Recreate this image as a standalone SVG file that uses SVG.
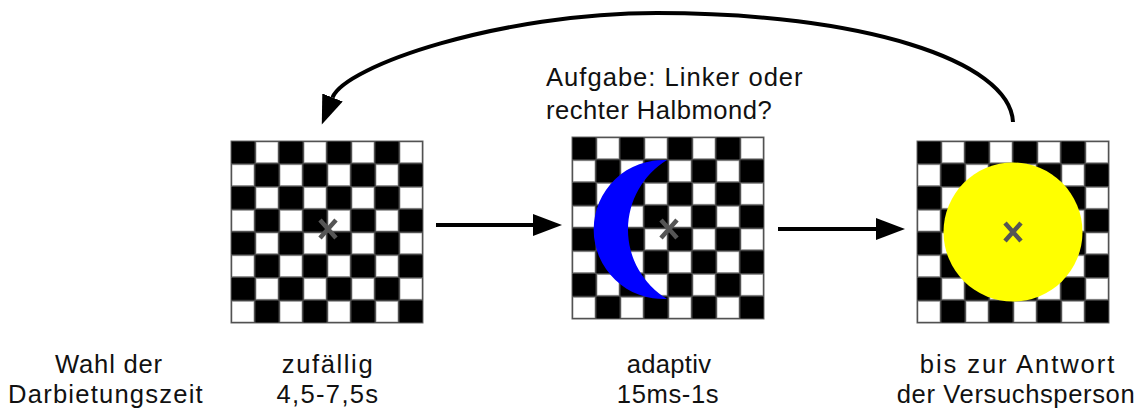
<svg xmlns="http://www.w3.org/2000/svg" xmlns:xlink="http://www.w3.org/1999/xlink" width="1138" height="410" viewBox="0 0 1138 410">
  <style>
    .lbl { font-family: "Liberation Sans", Arial, sans-serif; font-size: 25.6px; fill: #111; }
    .mid { text-anchor: middle; }
    .conn { fill: none; stroke: #000; stroke-width: 4; }
    .fix { stroke: #555; stroke-width: 4.5; stroke-linecap: butt; }
    .sq { fill: #fff; stroke: #9a9a9a; stroke-width: 0.8; }
    .grid { stroke: #555; stroke-width: 0.8; fill: none; }
  </style>
  <defs>
    <marker id="head" markerUnits="userSpaceOnUse" viewBox="0 0 30 22" markerWidth="30" markerHeight="22" refX="0" refY="11" orient="auto">
      <path d="M0,0 L29,11 L0,22 z" fill="#000"/>
    </marker>
    <!-- 8 x 8 checkerboard, 192 x 182 -->
    <g id="checker">
      <rect x="0" y="0" width="192" height="182" fill="#000"/>
      <path class="grid" d="M24 0V182M48 0V182M72 0V182M96 0V182M120 0V182M144 0V182M168 0V182
                            M0 22.75H192M0 45.5H192M0 68.25H192M0 91H192M0 113.75H192M0 136.5H192M0 159.25H192"/>
      <g class="sq">
        <rect x="25" y="1" width="22" height="20.75"/><rect x="73" y="1" width="22" height="20.75"/><rect x="121" y="1" width="22" height="20.75"/><rect x="169" y="1" width="22" height="20.75"/>
        <rect x="1" y="23.75" width="22" height="20.75"/><rect x="49" y="23.75" width="22" height="20.75"/><rect x="97" y="23.75" width="22" height="20.75"/><rect x="145" y="23.75" width="22" height="20.75"/>
        <rect x="25" y="46.5" width="22" height="20.75"/><rect x="73" y="46.5" width="22" height="20.75"/><rect x="121" y="46.5" width="22" height="20.75"/><rect x="169" y="46.5" width="22" height="20.75"/>
        <rect x="1" y="69.25" width="22" height="20.75"/><rect x="49" y="69.25" width="22" height="20.75"/><rect x="97" y="69.25" width="22" height="20.75"/><rect x="145" y="69.25" width="22" height="20.75"/>
        <rect x="25" y="92" width="22" height="20.75"/><rect x="73" y="92" width="22" height="20.75"/><rect x="121" y="92" width="22" height="20.75"/><rect x="169" y="92" width="22" height="20.75"/>
        <rect x="1" y="114.75" width="22" height="20.75"/><rect x="49" y="114.75" width="22" height="20.75"/><rect x="97" y="114.75" width="22" height="20.75"/><rect x="145" y="114.75" width="22" height="20.75"/>
        <rect x="25" y="137.5" width="22" height="20.75"/><rect x="73" y="137.5" width="22" height="20.75"/><rect x="121" y="137.5" width="22" height="20.75"/><rect x="169" y="137.5" width="22" height="20.75"/>
        <rect x="1" y="160.25" width="22" height="20.75"/><rect x="49" y="160.25" width="22" height="20.75"/><rect x="97" y="160.25" width="22" height="20.75"/><rect x="145" y="160.25" width="22" height="20.75"/>
      </g>
      <rect x="0" y="0" width="192" height="182" fill="none" stroke="#666" stroke-width="1"/>
    </g>
    <!-- fixation cross -->
    <path id="cross" class="fix" d="M-8,-9 L8,9 M8,-9 L-8,9"/>
  </defs>

  <rect width="1138" height="410" fill="#fff"/>

  <!-- Stage 1: random presentation time -->
  <g id="stage-random">
    <use xlink:href="#checker" href="#checker" x="231" y="141"/>
    <use xlink:href="#cross" href="#cross" x="328" y="229"/>
    <text class="lbl mid" x="328" y="373" letter-spacing="1.6">zufällig</text>
    <text class="lbl mid" x="328" y="403" letter-spacing="1.3">4,5-7,5s</text>
  </g>

  <!-- Stage 2: adaptive presentation with half moon target -->
  <g id="stage-adaptive">
    <use xlink:href="#checker" href="#checker" x="572" y="137"/>
    <path d="M667,160 A69.6,69.6 0 1 0 667,299 A81.4,81.4 0 0 1 667,160 z" fill="#0000ff"/>
    <use xlink:href="#cross" href="#cross" x="669" y="229"/>
    <text class="lbl mid" x="669" y="373" letter-spacing="0.3">adaptiv</text>
    <text class="lbl mid" x="668" y="403" letter-spacing="0.6">15ms-1s</text>
  </g>

  <!-- Stage 3: mask until response -->
  <g id="stage-response">
    <use xlink:href="#checker" href="#checker" x="917" y="141"/>
    <circle cx="1013" cy="232" r="69.5" fill="#ffff00"/>
    <use xlink:href="#cross" href="#cross" x="1013" y="232"/>
    <text class="lbl mid" x="1018" y="373" letter-spacing="1.9">bis zur Antwort</text>
    <text class="lbl mid" x="1016" y="403" letter-spacing="0.6">der Versuchsperson</text>
  </g>

  <!-- Row label -->
  <g id="row-label">
    <text class="lbl mid" x="109" y="373" letter-spacing="0.8">Wahl der</text>
    <text class="lbl mid" x="106" y="403" letter-spacing="1.2">Darbietungszeit</text>
  </g>

  <!-- Task description -->
  <g id="task">
    <text class="lbl" x="546" y="86" font-size="26.5" letter-spacing="1">Aufgabe: Linker oder</text>
    <text class="lbl" x="546" y="119" font-size="26.5" letter-spacing="0.5">rechter Halbmond?</text>
  </g>

  <!-- Connectors -->
  <g id="connectors">
    <path class="conn" d="M436,225 H533" marker-end="url(#head)"/>
    <path class="conn" d="M778,229 H876" marker-end="url(#head)"/>
    <path class="conn" d="M1013,122 C1010,60 860,13 657,13 C500,13 345,66 332.5,97.5" marker-end="url(#head)"/>
  </g>
</svg>
